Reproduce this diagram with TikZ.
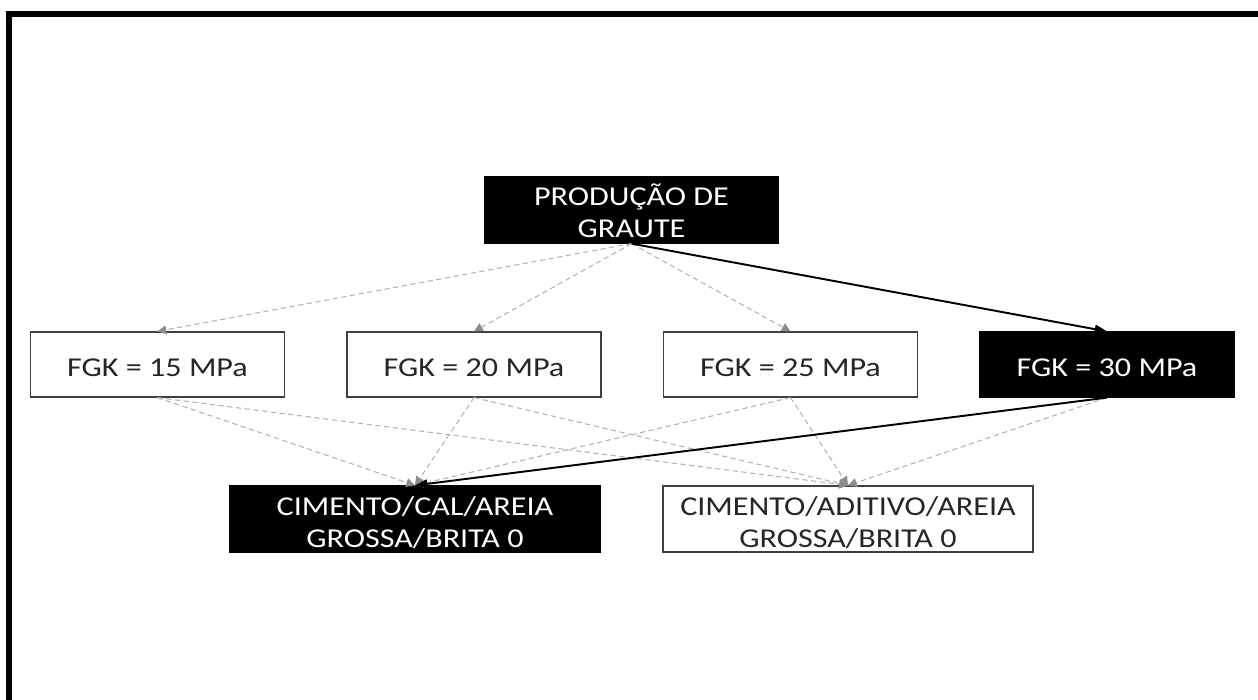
\documentclass[tikz,border=0pt]{standalone}
\usepackage{fontspec}
\setmainfont{Carlito}[FakeStretch=1.18]
\usetikzlibrary{arrows.meta}

\tikzset{
    plainbox/.style={draw=black!75, line width=0.7pt, fill=white, text=black!85, align=center, inner sep=0pt},
    darkbox/.style={plainbox, draw=black, fill=black, text=white},
    classbox/.style={minimum width=5.08cm, minimum height=1.3cm, text height=14.2pt, text depth=0pt},
    mixbox/.style={minimum width=7.4cm, minimum height=1.32cm, text height=32.9pt, text depth=0pt},
    option/.style={dash pattern=on 3pt off 2pt, black!30, line width=0.6pt, -{Triangle[length=5pt, width=5pt, color=black!45]}},
    chosen/.style={line width=1.1pt, -{Triangle[length=7pt, width=5pt]}}
}

\begin{document}
\begin{tikzpicture}[x=0.02cm, y=-0.02cm, font=\fontsize{15.5}{18.4}\selectfont]
    \useasboundingbox (0,0) rectangle (1258,700);

    % Frame
    \draw[line width=3.4pt] (9,700) -- (9,14) -- (1258,14);

    % Root
    \node[darkbox, minimum width=5.86cm, minimum height=1.32cm, text height=31.8pt, text depth=0pt] (graute) at (631.5,210) {PRODUÇÃO DE\\GRAUTE};

    % Strength classes
    \node[plainbox, classbox] (f15) at (157.5,364.5) {FGK = 15 MPa};
    \node[plainbox, classbox] (f20) at (474,364.5) {FGK = 20 MPa};
    \node[plainbox, classbox] (f25) at (790.5,364.5) {FGK = 25 MPa};
    \node[darkbox, classbox] (f30) at (1107,364.5) {FGK = 30 MPa};

    % Mixes
    \node[darkbox, mixbox] (cal) at (415,519) {CIMENTO/CAL/AREIA\\GROSSA/BRITA 0};
    \node[plainbox, mixbox] (aditivo) at (848,519) {CIMENTO/ADITIVO/AREIA\\GROSSA/BRITA 0};

    % Gray dashed options
    \foreach \f in {f15,f20,f25} \draw[option] (graute.south) -- (\f.north);
    \foreach \f in {f15,f20,f25} {
        \draw[option] (\f.south) -- (cal.north);
        \draw[option] (\f.south) -- (aditivo.north);
    }
    \draw[option] (f30.south) -- (aditivo.north);

    % Black chosen path
    \draw[chosen] (graute.south) -- (f30.north);
    \draw[chosen] (f30.south) -- (cal.north);
\end{tikzpicture}
\end{document}
